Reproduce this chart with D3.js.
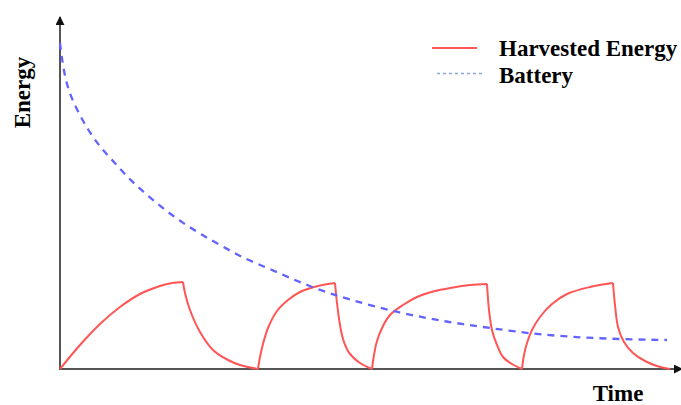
<!DOCTYPE html>
<html><head><meta charset="utf-8">
<script src="https://cdn.jsdelivr.net/npm/d3@7"></script>
<style>body{margin:0;background:#fff}</style>
</head><body>
<script>
// Harvested energy (time, energy) — charge/discharge cycles
const harvestTime   = [0,20,40,60,80,100,112,123, 125,130,140,153,168,180,198, 200,203,208,217,228,240,258,275, 277,280,283,286,290,300,312, 314,317,323,330,343,357,375,390,410,427, 429,432,437,443,452,462, 464,467,472,480,492,507,530,553, 555,558,564,573,585,597,610];
const harvestEnergy = [0,24,45,62,75,83,86,87, 76,59,37,19,9,4,0, 12,25,41,58,69,77,83,86, 66,44,30,22,15,6,0, 14,28,43,54,64,72,78,81,84,85, 59,39,24,12,5,0, 14,26,39,52,65,75,82,86, 64,42,27,16,8,3,0];
// Battery energy (time, energy)
const batteryTime   = [0,3,8,17,28,40,55,70,87,105,123,142,162,183,208,250,290,340,387,430,480,547,607];
const batteryEnergy = [326,302,279,259,239,222,206,189,174,159,146,134,123,111,101,82,69,56,47,41,34,30,29];
const legendLabels = ["Harvested Energy","Battery"];
const axisLabels = {x:"Time", y:"Energy"};

const W=681,H=405;
const svg=d3.select("body").append("svg").attr("width",W).attr("height",H);
const x=d3.scaleLinear().domain([0,615]).range([60,675]);
const y=d3.scaleLinear().domain([0,330]).range([369,39]);

const defs=svg.append("defs");
defs.append("marker").attr("id","arr").attr("viewBox","0 0 10 10").attr("refX",9).attr("refY",5)
  .attr("markerWidth",4.5).attr("markerHeight",4.5).attr("orient","auto").attr("markerUnits","strokeWidth")
  .append("path").attr("d","M0,0L10,5L0,10Z").attr("fill","#111");

// axes
svg.append("line").attr("x1",60).attr("y1",369).attr("x2",60).attr("y2",17)
  .attr("stroke","#555").attr("stroke-width",2).attr("marker-end","url(#arr)");
svg.append("line").attr("x1",59).attr("y1",369).attr("x2",682).attr("y2",369)
  .attr("stroke","#555").attr("stroke-width",2).attr("marker-end","url(#arr)");

// harvested segments split at extremes
const pts=harvestTime.map((t,i)=>[t,harvestEnergy[i]]);
const segs=[];let cur=[pts[0]],dir=0;
for(let i=1;i<pts.length;i++){
  const d=Math.sign(pts[i][1]-pts[i-1][1]);
  if(d!==0 && dir!==0 && d!==dir){segs.push(cur);cur=[pts[i-1]];}
  if(d!==0)dir=d;
  cur.push(pts[i]);
}
segs.push(cur);
const line=d3.line().x(d=>x(d[0])).y(d=>y(d[1])).curve(d3.curveCatmullRom.alpha(0.5));
svg.append("path").attr("d",segs.map(s=>line(s)).join(""))
  .attr("fill","none").attr("stroke","#ff5555").attr("stroke-width",2).attr("stroke-linejoin","round");

const bpts=batteryTime.map((t,i)=>[t,batteryEnergy[i]]);
svg.append("path").attr("d",d3.line().x(d=>x(d[0])).y(d=>y(d[1])).curve(d3.curveBasis)(bpts))
  .attr("fill","none").attr("stroke","#6363ff").attr("stroke-width",2.3).attr("stroke-dasharray","7,6");

// labels
const font="'Liberation Serif','Times New Roman',serif";
svg.append("text").text(axisLabels.y).attr("transform","translate(30,92.5) rotate(-90)")
  .attr("text-anchor","middle").attr("font-family",font).attr("font-weight","bold").attr("font-size",23).attr("fill","#000");
svg.append("text").text(axisLabels.x).attr("x",618).attr("y",401)
  .attr("text-anchor","middle").attr("font-family",font).attr("font-weight","bold").attr("font-size",23).attr("fill","#000");

// legend
svg.append("line").attr("x1",432).attr("x2",477).attr("y1",48).attr("y2",48).attr("stroke","#ff5555").attr("stroke-width",2);
svg.append("line").attr("x1",437).attr("x2",482).attr("y1",73.5).attr("y2",73.5).attr("stroke","#86a8dc").attr("stroke-width",1.3).attr("stroke-dasharray","3,3");
svg.append("text").text(legendLabels[0]).attr("x",499).attr("y",56).attr("font-family",font).attr("font-weight","bold").attr("font-size",23);
svg.append("text").text(legendLabels[1]).attr("x",499).attr("y",83).attr("font-family",font).attr("font-weight","bold").attr("font-size",23);
</script>
</body></html>
